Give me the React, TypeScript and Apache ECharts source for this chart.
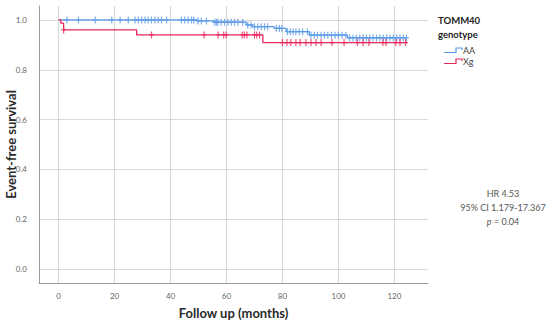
import React, { useEffect, useRef } from "react";
import * as echarts from "echarts";

// Kaplan-Meier step points [time (months), survival]
const aaSteps: [number, number][] = [
  [0, 1.0], [49.5, 0.996], [55.2, 0.991], [67, 0.98], [69.3, 0.973],
  [77, 0.966], [81.3, 0.953], [89.6, 0.939], [103.2, 0.928], [124.5, 0.928],
];
const xgSteps: [number, number][] = [
  [0, 1.0], [0.8, 0.987], [1.8, 0.96], [27.9, 0.94], [73, 0.909], [124.5, 0.909],
];
// censoring times (months)
const aaCensor = [
  3, 7.1, 13.1, 19, 22, 24.9, 27.3, 28.5, 29.7, 30.9, 32, 33.2, 34.4, 35.6, 36.8, 38.6,
  43.9, 45.1, 46.3, 47.5, 48.3, 49.8, 51, 52.8, 55.8, 56.4, 56.9, 58.1, 59.3, 60.5, 61.7,
  62.9, 64.1, 65.8, 67.6, 68.8, 70, 71.2, 72.4, 73.6, 74.7, 77.8, 78.9, 79.8, 81.8, 82.8,
  83.8, 84.8, 86, 87.2, 88.9, 90.2, 91.4, 92.5, 93.8, 95, 96.2, 97.5, 98.8, 100, 101.3,
  102.6, 104, 105.2, 106.4, 107.6, 108.8, 110, 111.2, 112.4, 113.6, 114.8, 116, 117.2,
  118.4, 119.6, 120.8, 122, 123.2, 124.3,
];
const xgCensor = [
  1.8, 33.2, 52, 57, 59, 59.9, 65.6, 66.4, 67.3, 70, 70.8, 71.8, 80, 81.6, 83, 84.8,
  86.3, 88.4, 90.2, 92, 93.8, 97.7, 102, 106.8, 108.8, 110.9, 115.9, 117, 120.5, 122, 124,
];
const groupNames = ["AA", "Xg"];
const legendTitle = ["TOMM40", "genotype"];
const statLines = ["HR 4.53", "95% CI 1.179-17.367", "{i|p} = 0.04"];

const BLUE = "#5B9BE8";
const RED = "#E8285A";
const CROSS = "path://M19,0 H31 V29 H50 V41 H31 V70 H19 V41 H0 V29 H19 Z";

function survAt(steps: [number, number][], t: number): number {
  let s = steps[0][1];
  for (const [st, sv] of steps) {
    if (st <= t) s = sv;
  }
  return s;
}

export default function App() {
  const ref = useRef<HTMLDivElement>(null);
  useEffect(() => {
    document.body.style.margin = "0";
    if (!ref.current) return;
    const chart = echarts.init(ref.current, undefined, { renderer: "svg" });
    const font = "Lato, 'Open Sans', sans-serif";
    const legendIcon = (y: number, color: string) => ({
      type: "polyline",
      shape: { points: [[444, y + 2.5], [456, y + 2.5], [456, y - 2], [462, y - 2], [462, y]] },
      style: { stroke: color, lineWidth: 1.2, fill: null },
    });
    const txt = (x: number, y: number, text: string, opts: any = {}) => ({
      type: "text",
      x,
      y,
      style: {
        text,
        fill: opts.fill || "#333",
        font: opts.font || `10px ${font}`,
        align: opts.align || "left",
        textAlign: opts.align || "left",
        verticalAlign: "middle",
        textVerticalAlign: "middle",
        rich: opts.rich,
      },
    });
    chart.setOption({
      animation: false,
      backgroundColor: "#fff",
      grid: { left: 39, right: 122, top: 6, bottom: 41, containLabel: false, outerBoundsMode: "none" },
      xAxis: {
        type: "value",
        min: -7,
        max: 132,
        splitNumber: 7,
        name: "Follow up (months)",
        nameLocation: "middle",
        nameGap: 23,
        nameMoveOverlap: false,
        nameTextStyle: { fontSize: 13, fontWeight: "bold", color: "#2a2a2a", fontFamily: font },
        axisLine: { show: true, onZero: false, lineStyle: { color: "#9a9a9a", width: 1 } },
        axisTick: { show: false },
        axisLabel: {
          showMinLabel: false,
          showMaxLabel: false,
          color: "#666",
          fontSize: 8,
          fontFamily: font,
          margin: 9,
        },
        splitLine: { show: true, showMinLine: false, showMaxLine: false, lineStyle: { color: "#d9d9d9", width: 1.2 } },
      },
      yAxis: {
        type: "value",
        min: -0.056,
        max: 1.056,
        splitNumber: 5,
        name: "Event-free survival",
        nameLocation: "middle",
        nameGap: 22,
        nameMoveOverlap: false,
        nameRotate: 90,
        nameTextStyle: { fontSize: 13, fontWeight: "bold", color: "#2a2a2a", fontFamily: font },
        axisLine: { show: true, onZero: false, lineStyle: { color: "#9a9a9a", width: 1 } },
        axisTick: { show: false },
        axisLabel: {
          showMinLabel: false,
          showMaxLabel: false,
          color: "#666",
          fontSize: 8,
          fontFamily: font,
          margin: 12,
          formatter: (v: number) => v.toFixed(1),
        },
        splitLine: { show: true, showMinLine: false, showMaxLine: false, lineStyle: { color: "#d9d9d9", width: 1.2 } },
      },
      series: [
        {
          name: groupNames[0],
          type: "line",
          step: "end",
          data: aaSteps,
          showSymbol: false,
          lineStyle: { color: BLUE, width: 1.3 },
          z: 3,
        },
        {
          name: groupNames[1],
          type: "line",
          step: "end",
          data: xgSteps,
          showSymbol: false,
          lineStyle: { color: RED, width: 1.3 },
          z: 3,
        },
        {
          type: "scatter",
          data: aaCensor.map((t) => [t, survAt(aaSteps, t)]),
          symbol: CROSS,
          symbolSize: [5, 7],
          itemStyle: { color: BLUE },
          z: 4,
        },
        {
          type: "scatter",
          data: xgCensor.map((t) => [t, survAt(xgSteps, t)]),
          symbol: CROSS,
          symbolSize: [5, 7],
          itemStyle: { color: RED },
          z: 4,
        },
      ],
      graphic: [
        txt(438, 20, legendTitle[0], { font: `bold 9.5px ${font}`, fill: "#222" }),
        txt(438, 34, legendTitle[1], { font: `bold 9.5px ${font}`, fill: "#222" }),
        legendIcon(50, BLUE),
        legendIcon(61, RED),
        txt(463, 50, groupNames[0], { font: `9px ${font}`, fill: "#444" }),
        txt(463, 61, groupNames[1], { font: `9px ${font}`, fill: "#444" }),
        txt(503, 193, statLines[0], { align: "center", font: `9px ${font}`, fill: "#555" }),
        txt(503, 207, statLines[1], { align: "center", font: `9px ${font}`, fill: "#555" }),
        txt(503, 221, statLines[2], {
          align: "center",
          font: `9px ${font}`,
          fill: "#555",
          rich: { i: { fontStyle: "italic", fontSize: 9, fill: "#555", fontFamily: font } },
        }),
      ],
    });
    return () => chart.dispose();
  }, []);
  return <div ref={ref} style={{ width: 550, height: 324 }} />;
}
